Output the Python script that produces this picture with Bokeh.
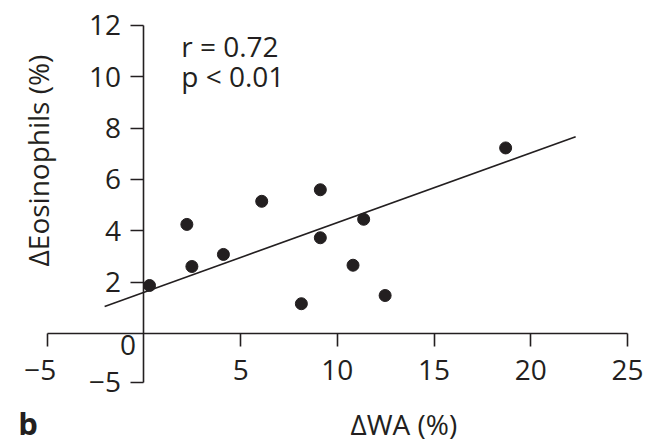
import math
from bokeh.plotting import figure
from bokeh.models import Range1d, FixedTicker, Label, ColumnDataSource
from bokeh.embed import file_html
from bokeh.resources import INLINE

# ---- data ----
wa_pct = [0.29, 2.22, 2.48, 4.11, 6.09, 8.14, 9.12, 9.12, 10.81, 11.36, 12.47, 18.70]
eos_pct = [1.87, 4.25, 2.61, 3.08, 5.15, 1.16, 5.60, 3.73, 2.66, 4.45, 1.48, 7.23]
fit_x = [-2.03, 22.32]
fit_y = [1.05, 7.67]

x_ticks = [-5, 5, 10, 15, 20, 25]
x_tick_labels = ["\u22125\u2002", "5", "10", "15", "20", "25"]
y_ticks = [-1.9, 2, 4, 6, 8, 10, 12]
y_tick_labels = ["\u22125", "2", "4", "6", "8", "10", "12"]

x_title = "\u0394WA (%)"
y_title = "\u0394Eosinophils (%)"
stats_lines = ["r = 0.72", "p < 0.01"]
panel_letter = "b"
origin_label = "0"

FONT = "Open Sans"
INK = "#231f20"
FS = "28px"
BASE_FIX = 12  # baseline correction for labels

p = figure(width=649, height=445, output_backend="svg", toolbar_location=None,
           x_range=Range1d(-7.414, 26.137), y_range=Range1d(-4.364, 12.974),
           min_border=0, min_border_left=0, min_border_right=0,
           min_border_top=0, min_border_bottom=0)
p.outline_line_color = None
p.grid.visible = False
p.background_fill_color = "white"
p.border_fill_color = "white"

for ax in (p.xaxis[0], p.yaxis[0]):
    ax.fixed_location = 0
    ax.axis_line_color = INK
    ax.axis_line_width = 1.6
    ax.major_tick_line_color = INK
    ax.major_tick_line_width = 1.6
    ax.major_tick_out = 13
    ax.major_tick_in = 0
    ax.minor_tick_line_color = None
    ax.major_label_text_font = FONT
    ax.major_label_text_font_size = FS
    ax.major_label_text_color = INK

xa = p.xaxis[0]
xa.bounds = (x_ticks[0], x_ticks[-1])
xa.ticker = FixedTicker(ticks=x_ticks)
xa.major_label_overrides = {t: l for t, l in zip(x_ticks, x_tick_labels)}
xa.major_label_standoff = 4

ya = p.yaxis[0]
ya.bounds = (y_ticks[0], y_ticks[-1])
ya.ticker = FixedTicker(ticks=y_ticks)
ya.major_label_overrides = {t: l for t, l in zip(y_ticks, y_tick_labels)}
ya.major_label_standoff = 10

# regression line and points
p.line(fit_x, fit_y, line_color=INK, line_width=1.6)
src = ColumnDataSource(dict(x=wa_pct, y=eos_pct))
p.scatter("x", "y", source=src, size=12, fill_color=INK, line_color=INK)

# texts
def lab(x, y, text, dx=0, dy=0, align="left", size=FS, style="normal"):
    p.add_layout(Label(x=x, y=y, x_offset=dx, y_offset=dy + BASE_FIX, text=text,
                       text_align=align, text_baseline="alphabetic",
                       text_font=FONT, text_font_size=size,
                       text_font_style=style, text_color=INK))

lab(0, 0, origin_label, dx=-16, dy=-24, align="center")
lab(1.93, 10.75, stats_lines[0])
lab(1.93, 9.55, stats_lines[1])
lab(13.44, -4.0, x_title, align="center")
lab(-6.49, -3.97, panel_letter, size="31px", style="bold")

p.add_layout(Label(x=-5.5, y=6.74, text=y_title, angle=math.pi / 2,
                   text_align="center", text_baseline="middle", text_font=FONT,
                   text_font_size=FS, text_color=INK))

open("out.html", "w").write(file_html(p, INLINE))
